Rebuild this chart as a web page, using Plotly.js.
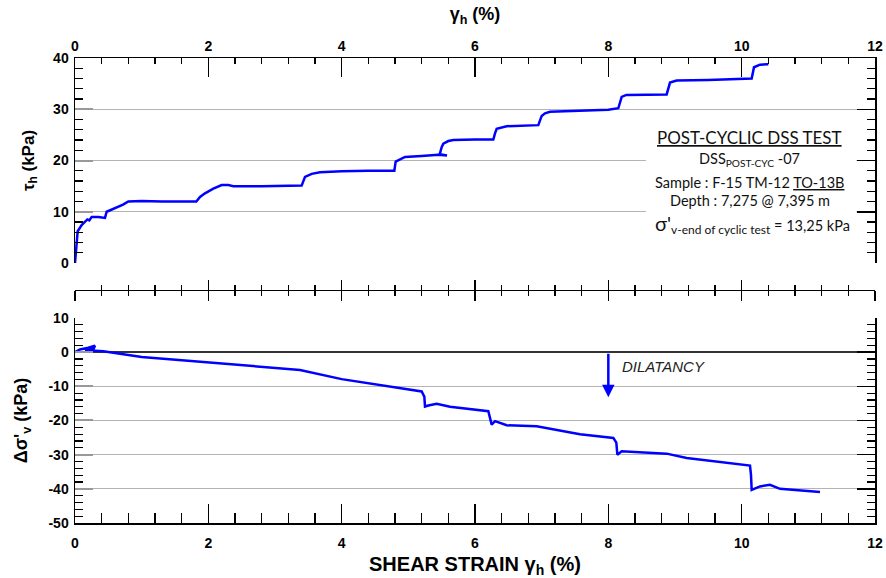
<!DOCTYPE html>
<html>
<head>
<meta charset="utf-8">
<script src="https://cdn.plot.ly/plotly-3.0.1.min.js"></script>
<style>html,body{margin:0;padding:0;background:#fff;}#chart{width:886px;height:578px;}</style>
</head>
<body>
<div id="chart"></div>
<script>
// Top panel: shear stress vs shear strain
const gammaTop = [0,0.04,0.1,0.185,0.215,0.25,0.35,0.45,0.475,0.55,0.65,0.72,0.8,1.0,1.3,1.6,1.82,1.875,1.95,2.075,2.2,2.3,2.375,2.8,3.2,3.4,3.45,3.55,3.675,4.0,4.4,4.79,4.81,4.9,4.95,5.2,5.45,5.58,5.47,5.5,5.525,5.6,5.675,6.0,6.275,6.3,6.325,6.475,6.7,6.95,7.0,7.05,7.125,7.5,8.0,8.15,8.2,8.27,8.6,8.875,8.925,9.025,9.5,10.15,10.185,10.275,10.4];
const tauTop   = [0,6.2,7.4,8.5,8.3,9.0,9.0,8.8,10.0,10.4,10.9,11.4,12.0,12.1,12.0,12.0,12.0,12.9,13.6,14.5,15.2,15.2,15.0,15.0,15.1,15.1,16.8,17.4,17.7,17.9,18.0,18.0,19.8,20.4,20.7,20.9,21.1,21.0,21.2,22.6,23.3,23.8,24.0,24.1,24.1,25.3,26.2,26.7,26.8,26.9,28.7,29.2,29.5,29.7,29.9,30.2,32.4,32.8,32.9,32.9,35.2,35.6,35.7,36.0,38.2,38.7,38.8];
// Bottom panel: change in vertical effective stress vs shear strain
const gammaBot = [0,0.075,0.2,0.3,0.28,0.15,0.3,0.425,1.0,2.0,3.0,3.375,4.0,4.375,5.2,5.24,5.25,5.3,5.425,5.625,6.125,6.2,6.25,6.3,6.475,6.925,7.575,8.075,8.12,8.135,8.2,8.625,8.875,9.175,10.125,10.14,10.15,10.275,10.425,10.575,11.175];
const dsigBot  = [0,0.8,1.3,1.9,1.0,0.6,0.4,0.25,-1.4,-3.0,-4.6,-5.2,-7.9,-9.0,-11.5,-13.0,-15.9,-15.6,-15.1,-16.0,-17.1,-17.3,-21.2,-20.2,-21.4,-21.7,-24.0,-25.1,-26.5,-30.0,-29.0,-29.5,-29.7,-31.0,-33.2,-36.0,-40.3,-39.3,-38.8,-40.0,-40.9];

const xTicks = [0,2,4,6,8,10,12];
const tauTicks = [0,10,20,30,40];
const dsigTicks = [-50,-40,-30,-20,-10,0,10];

const tickFont = {family:'"Liberation Sans", Arial, sans-serif', size:14, color:'#000', weight:'bold'};
const titleFont = {family:'"Liberation Sans", Arial, sans-serif', size:17, color:'#000', weight:'bold'};
const boxFont = 'Lato, "Open Sans", sans-serif';
const blue = '#0000ff';
const grid = '#b4b4b4';

const traces = [
  {x:gammaTop, y:tauTop, xaxis:'x', yaxis:'y', type:'scatter', mode:'lines', line:{color:blue, width:2.5}, hoverinfo:'skip'},
  {x:gammaBot, y:dsigBot, xaxis:'x2', yaxis:'y2', type:'scatter', mode:'lines', line:{color:blue, width:2.5}, hoverinfo:'skip'},
  {x:[], y:[], xaxis:'x3', yaxis:'y', type:'scatter'},
  {x:[], y:[], xaxis:'x4', yaxis:'y', type:'scatter'},
  {x:[], y:[], xaxis:'x', yaxis:'y3', type:'scatter'},
  {x:[], y:[], xaxis:'x2', yaxis:'y4', type:'scatter'}
];

const topDom = [0.5591, 1];
const botDom = [0, 0.4409];

const layout = {
  width:886, height:578,
  margin:{l:75, r:11, t:58, b:55},
  paper_bgcolor:'#fff', plot_bgcolor:'rgba(0,0,0,0)',
  showlegend:false,
  xaxis:{domain:[0,1], anchor:'y', side:'top', range:[0,12], tickvals:xTicks, ticktext:xTicks.map(String),
    ticks:'inside', ticklen:19, tickwidth:1.5, tickcolor:'#000', showline:true, linecolor:'#000', linewidth:1.5,
    showgrid:false, zeroline:false, tickfont:tickFont, automargin:false,
    minor:{dtick:0.4, tick0:0, ticks:'inside', ticklen:6, tickwidth:1.2, tickcolor:'#000', showgrid:false},
    title:{text:'γ<sub>h</sub> (%)', font:{family:titleFont.family, size:18, color:'#000', weight:'bold'}, standoff:12}},
  yaxis:{domain:topDom, anchor:'x', range:[0,40], tickvals:tauTicks, ticktext:tauTicks.map(String),
    ticks:'inside', ticklen:18, tickwidth:2, tickcolor:'#999', showline:true, linecolor:'#000', linewidth:1.5,
    showgrid:true, gridcolor:grid, gridwidth:1, zeroline:false, tickfont:tickFont, automargin:false, ticklabelstandoff:2,
    minor:{dtick:2, tick0:0, ticks:'inside', ticklen:8, tickwidth:1.2, tickcolor:'#000', showgrid:false},
    title:{text:'τ<sub>h</sub> (kPa)', font:titleFont, standoff:14}},
  yaxis3:{overlaying:'y', side:'right', anchor:'x', range:[0,40], tickvals:tauTicks, showticklabels:false,
    ticks:'inside', ticklen:18, tickwidth:1.5, tickcolor:'#000', showline:true, linecolor:'#000', linewidth:1.5,
    showgrid:false, zeroline:false,
    minor:{dtick:2, tick0:0, ticks:'inside', ticklen:8, tickwidth:1.2, tickcolor:'#000', showgrid:false}},
  xaxis3:{overlaying:'x', anchor:'free', position:0.5011, range:[0,12], tickvals:xTicks, showticklabels:false,
    ticks:'outside', ticklen:10, tickwidth:1.5, tickcolor:'#000', showline:true, linecolor:'#000', linewidth:1.5,
    showgrid:false, zeroline:false,
    minor:{dtick:0.4, tick0:0, ticks:'outside', ticklen:5, tickwidth:1.2, tickcolor:'#000', showgrid:false}},
  xaxis4:{overlaying:'x', anchor:'free', position:0.5011, range:[0,12], tickvals:xTicks, showticklabels:false,
    ticks:'inside', ticklen:10, tickwidth:1.5, tickcolor:'#000', showline:true, linecolor:'#000', linewidth:1.5,
    showgrid:false, zeroline:false,
    minor:{dtick:0.4, tick0:0, ticks:'inside', ticklen:5, tickwidth:1.2, tickcolor:'#000', showgrid:false}},
  xaxis2:{domain:[0,1], anchor:'y2', side:'bottom', range:[0,12], tickvals:xTicks, ticktext:xTicks.map(String),
    ticks:'inside', ticklen:19, tickwidth:1.5, tickcolor:'#000', showline:true, linecolor:'#000', linewidth:1.5,
    showgrid:false, zeroline:false, tickfont:tickFont, automargin:false, ticklabelstandoff:7,
    minor:{dtick:0.4, tick0:0, ticks:'inside', ticklen:10, tickwidth:1.2, tickcolor:'#000', showgrid:false},
    title:{text:'SHEAR STRAIN γ<sub>h</sub> (%)', font:{family:titleFont.family, size:20, color:'#000', weight:'bold'}, standoff:8}},
  yaxis2:{domain:botDom, anchor:'x2', range:[-50,10], tickvals:dsigTicks, ticktext:dsigTicks.map(String),
    ticks:'inside', ticklen:18, tickwidth:2, tickcolor:'#999', showline:true, linecolor:'#000', linewidth:1.5,
    showgrid:true, gridcolor:grid, gridwidth:1, zeroline:true, zerolinecolor:'#333', zerolinewidth:1.5,
    tickfont:tickFont, automargin:false, ticklabelstandoff:2,
    minor:{dtick:2, tick0:0, ticks:'inside', ticklen:8, tickwidth:1.2, tickcolor:'#000', showgrid:false},
    title:{text:'Δσ\'<sub>v</sub> (kPa)', font:{family:titleFont.family, size:18, color:'#000', weight:'bold'}, standoff:16}},
  yaxis4:{overlaying:'y2', side:'right', anchor:'x2', range:[-50,10], tickvals:dsigTicks, showticklabels:false,
    ticks:'inside', ticklen:18, tickwidth:1.5, tickcolor:'#000', showline:true, linecolor:'#000', linewidth:1.5,
    showgrid:false, zeroline:false,
    minor:{dtick:2, tick0:0, ticks:'inside', ticklen:8, tickwidth:1.2, tickcolor:'#000', showgrid:false}},
  shapes:[
    {type:'rect', xref:'x', yref:'y', x0:8.565, x1:11.72, y0:4.5, y1:28.3, fillcolor:'#fff', line:{width:0}, layer:'between'}
  ],
  annotations:[
    {xref:'x', yref:'y', x:10.12, y:24.4, text:'<u>POST-CYCLIC DSS TEST</u>', showarrow:false, font:{family:boxFont, size:17, color:'#111'}},
    {xref:'x', yref:'y', x:10.12, y:20.2, text:'DSS<sub>POST-CYC</sub> -07', showarrow:false, font:{family:boxFont, size:14.5, color:'#111'}},
    {xref:'x', yref:'y', x:10.12, y:15.8, text:'Sample : F-15 TM-12 <u>TO-13B</u>', showarrow:false, font:{family:boxFont, size:14.5, color:'#111'}},
    {xref:'x', yref:'y', x:10.12, y:12.2, text:'Depth : 7,275 @ 7,395 m', showarrow:false, font:{family:boxFont, size:14.5, color:'#111'}},
    {xref:'x', yref:'y', x:8.67, y:7.6, xanchor:'left', text:'<span style="font-size:20px">σ\'</span><sub><span style="font-size:12px">v-end of cyclic test</span></sub> = 13,25 kPa', showarrow:false, font:{family:boxFont, size:14.5, color:'#111'}},
    {xref:'x2', yref:'y2', x:8.0, y:-13.2, ax:8.0, ay:0, axref:'x2', ayref:'y2', text:'', showarrow:true, arrowhead:2, arrowsize:1, arrowwidth:2.5, arrowcolor:blue},
    {xref:'x2', yref:'y2', x:8.18, y:-4.3, xanchor:'left', text:'<i>DILATANCY</i>', showarrow:false, font:{family:'"Liberation Sans", Arial, sans-serif', size:15, color:'#222'}}
  ]
};

Plotly.newPlot('chart', traces, layout, {staticPlot:true, displayModeBar:false});
</script>
</body>
</html>
